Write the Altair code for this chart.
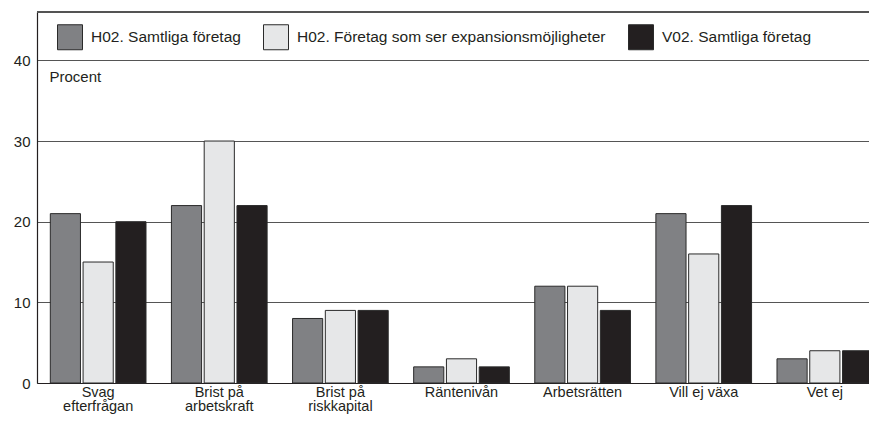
import altair as alt
import pandas as pd

categories = ["Svag|efterfrågan", "Brist på|arbetskraft", "Brist på|riskkapital",
              "Räntenivån", "Arbetsrätten", "Vill ej växa", "Vet ej"]
series = ["H02. Samtliga företag", "H02. Företag som ser expansionsmöjligheter",
          "V02. Samtliga företag"]
h02_all = [21, 22, 8, 2, 12, 21, 3]
h02_exp = [15, 30, 9, 3, 12, 16, 4]
v02_all = [20, 22, 9, 2, 9, 22, 4]
colors = ["#808184", "#e6e7e8", "#231f20"]
y_ticks = [0, 10, 20, 30, 40]

rows = []
for vals, s in zip([h02_all, h02_exp, v02_all], series):
    for c, v in zip(categories, vals):
        rows.append({"kategori": c, "serie": s, "värde": v})
df = pd.DataFrame(rows)

FONT = "Liberation Sans"
TXT = "#231f20"

bars = alt.Chart(df).mark_bar(stroke="#2a2a2a", strokeWidth=1).encode(
    x=alt.X("kategori:N", sort=categories,
            scale=alt.Scale(paddingInner=0.21, paddingOuter=0.11),
            axis=alt.Axis(title=None, labelAngle=0, ticks=False, domain=True,
                          domainColor="#231f20", domainWidth=1.2,
                          labelExpr="split(datum.label, '|')",
                          labelFontSize=14.5, labelFont=FONT, labelColor=TXT,
                          labelBaseline="alphabetic",
                          labelPadding=13, labelLineHeight=14.5, grid=False)),
    xOffset=alt.XOffset("serie:N", sort=series,
                        scale=alt.Scale(paddingInner=0.08, paddingOuter=0)),
    y=alt.Y("värde:Q", scale=alt.Scale(domain=[0, 46], nice=False, zero=True),
            axis=alt.Axis(values=y_ticks, ticks=False, grid=True,
                          gridColor="#555555", gridWidth=1,
                          domain=True, domainColor="#231f20", domainWidth=1.2,
                          labelFontSize=15, labelFont=FONT, labelColor=TXT,
                          labelPadding=7,
                          title="Procent", titleAngle=0, titleX=12, titleY=69,
                          titleAlign="left", titleBaseline="alphabetic",
                          titleFontWeight="normal", titleFontSize=15,
                          titleFont=FONT, titleColor=TXT)),
    color=alt.Color("serie:N", sort=series,
                    scale=alt.Scale(domain=series, range=colors),
                    legend=alt.Legend(title=None, orient="none", direction="horizontal",
                                      legendX=20, legendY=12, padding=0,
                                      symbolType="square", symbolSize=625,
                                      symbolStrokeColor="#2a2a2a", symbolStrokeWidth=1,
                                      labelFontSize=15.5, labelFont=FONT, labelColor=TXT,
                                      labelOffset=8, columnPadding=20,
                                      labelLimit=400)),
)

top_line = alt.Chart(df).mark_rule(color="#555555", strokeWidth=1).encode(
    y=alt.value(0)
)

chart = alt.layer(bars, top_line).properties(
    width=849, height=371,
    autosize=alt.AutoSizeParams(type="none"),
    padding={"left": 29, "top": 4, "right": -17, "bottom": 31},
).configure_view(stroke=None).configure(background="white")

chart.save("out.html", embed_options={"renderer": "svg", "actions": False})
